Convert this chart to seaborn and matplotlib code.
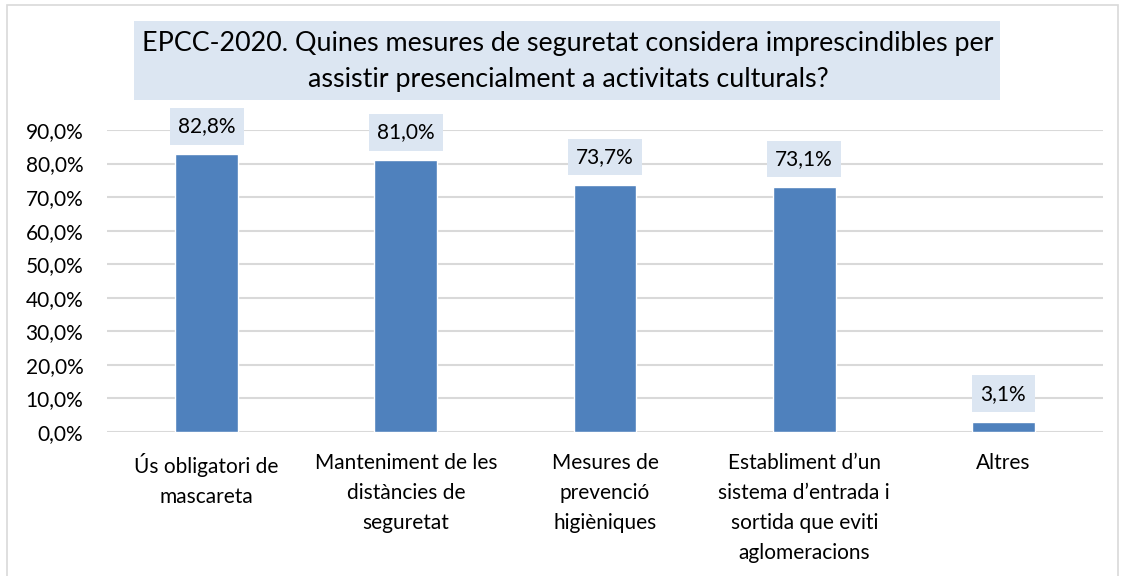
import matplotlib
matplotlib.use("Agg")
import matplotlib.pyplot as plt
from matplotlib.patches import Rectangle
from matplotlib.ticker import FuncFormatter
import seaborn as sns
import pandas as pd

categories = [
    "Ús obligatori de\nmascareta",
    "Manteniment de les\ndistàncies de\nseguretat",
    "Mesures de\nprevenció\nhigièniques",
    "Establiment d’un\nsistema d’entrada i\nsortida que eviti\naglomeracions",
    "Altres",
]
values = [82.8, 81.0, 73.7, 73.1, 3.1]
title_text = ("EPCC-2020. Quines mesures de seguretat considera imprescindibles per\n"
              "assistir presencialment a activitats culturals?")

sns.set_theme(style="white")
plt.rcParams["font.family"] = ["Lato", "DejaVu Sans"]

BAR = "#4F81BD"
BOX = "#DCE6F2"
GRID = "#D9D9D9"

df = pd.DataFrame({"cat": categories, "val": values})

fig = plt.figure(figsize=(11.25, 5.76), dpi=100)
fig.patch.set_facecolor("white")

# outer chart border
fig.patches.append(Rectangle((7 / 1125, -0.01), 1111 / 1125, 1 - 5 / 576 + 0.01,
                             transform=fig.transFigure, fill=False,
                             edgecolor="#D9D9D9", linewidth=1.2))

ax = fig.add_axes([107 / 1125, 144 / 576, 996 / 1125, 302 / 576])
sns.barplot(data=df, x="cat", y="val", color=BAR, saturation=1, width=0.316,
            ax=ax, zorder=3)

ax.set_ylim(0, 90)
ax.set_xlim(-0.5, len(categories) - 0.5)
ax.set_yticks(range(0, 91, 10))
ax.yaxis.set_major_formatter(FuncFormatter(lambda v, p: f"{v:.1f}%".replace(".", ",")))
ax.grid(axis="y", color=GRID, linewidth=1.5, zorder=0)
ax.set_axisbelow(True)
for s in ax.spines.values():
    s.set_visible(False)
ax.tick_params(axis="y", length=0, pad=17, labelsize=15, labelcolor="#000000")
ax.tick_params(axis="x", length=0, pad=15, labelsize=15, labelcolor="#000000")
ax.set_xlabel("")
ax.set_ylabel("")
for lbl in ax.get_xticklabels():
    lbl.set_linespacing(1.62)

# value labels in shaded boxes above each bar
for i, v in enumerate(values):
    ax.annotate(f"{v:.1f}%".replace(".", ","), xy=(i, v), xytext=(0, 20),
                textcoords="offset points", ha="center", va="center",
                fontsize=15, color="#000000",
                bbox=dict(boxstyle="square,pad=0.4", facecolor=BOX, edgecolor="none"),
                zorder=4)

# title with shaded background
fig.patches.append(Rectangle((134 / 1125, 1 - 100 / 576), 866 / 1125, 79 / 576,
                             transform=fig.transFigure, facecolor=BOX,
                             edgecolor="none"))
fig.text(568 / 1125, 1 - 62 / 576, title_text, ha="center", va="center",
         fontsize=19.4, color="#000000", linespacing=1.55)

fig.savefig("out.png", dpi=100)
